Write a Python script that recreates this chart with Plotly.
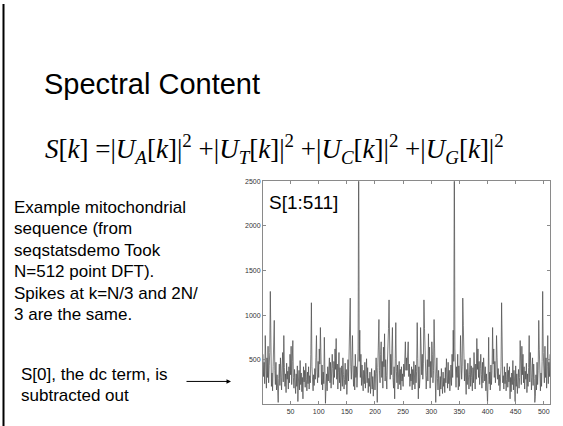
import plotly.graph_objects as go

# S[k] for k = 1..256 (read off the picture); the spectrum of a real sequence
# is symmetric, S[k] = S[512-k], so the second half mirrors the first.
k_half = list(range(1, 257))
s_half = [
    560, 310, 470, 230, 770, 420, 180, 520, 300, 650,
    240, 430, 580, 1265, 480, 200, 350, 150, 420, 610,
    940, 380, 220, 470, 160, 330, 90, 20, 290, 450,
    210, 520, 300, 160, 430, 580, 250, 770, 410, 200,
    340, 130, 460, 280, 370, 170, 420, 240, 560, 330,
    650, 220, 480, 714, 300, 180, 390, 250, 120, 340,
    200, 430, 30, 260, 380, 160, 490, 220, 350, 140,
    300, 60, 420, 250, 380, 190, 460, 280, 150, 360,
    230, 420, 170, 320, 240, 560, 1138, 420, 260, 150,
    330, 210, 400, 280, 520, 770, 360, 240, 480, 300,
    620, 450, 860, 380, 220, 440, 160, 360, 230, 750,
    280, 10, 200, 340, 150, 420, 260, 380, 520, 240,
    470, 180, 330, 560, 400, 220, 480, 300, 620, 390,
    737, 280, 450, 170, 360, 580, 240, 410, 150, 300,
    430, 200, 520, 330, 170, 280, 460, 220, 390, 110,
    350, 500, 260, 640, 880, 1190, 420, 280, 520, 770,
    360, 200, 430, 160, 560, 300, 420, 190, 350, 620,
    2950, 480, 830, 300, 560, 210, 440, 260, 150, 380,
    230, 470, 180, 330, 510, 240, 410, 130, 290, 200,
    360, 120, 250, 400, 170, 310, 90, 240, 380, 160,
    290, 520, 340, 20, 410, 620, 950, 380, 240, 560,
    700, 300, 480, 180, 640, 420, 790, 260, 500, 320,
    170, 440, 600, 850, 1170, 460, 280, 560, 330, 620,
    860, 300, 180, 420, 60, 510, 915, 370, 240, 440,
    170, 350, 480, 220, 390, 160, 420, 260, 340, 200,
    450, 310, 700, 700, 380, 520,
]
k_all = list(range(1, 512))
s_all = s_half + s_half[-2::-1]

x_ticks = [50, 100, 150, 200, 250, 300, 350, 400, 450, 500]
y_ticks = [500, 1000, 1500, 2000, 2500]

W, H = 563, 426
def px(x):
    return x / W
def py(y):
    return 1 - y / H

fig = go.Figure()
fig.add_trace(go.Scatter(x=k_all, y=s_all, mode="lines",
                         line=dict(color="#505050", width=0.75),
                         hoverinfo="skip", showlegend=False))

axis_common = dict(showline=True, linecolor="#8a8a8a", linewidth=1,
                   mirror="ticks", ticks="inside", ticklen=3,
                   tickcolor="#8a8a8a", showgrid=False, zeroline=False,
                   tickfont=dict(family="Liberation Sans", size=7, color="#333"))

fig.update_layout(
    width=W, height=H, autosize=False,
    margin=dict(l=0, r=0, t=0, b=0),
    paper_bgcolor="white", plot_bgcolor="white",
    xaxis=dict(domain=[px(263), px(550)], range=[1, 511],
               tickvals=x_ticks, **axis_common),
    yaxis=dict(domain=[1 - 404 / H, 1 - 179 / H], range=[0, 2500],
               tickvals=y_ticks, **axis_common),
)

sans = "Liberation Sans, Arial, Helvetica, sans-serif"
serif = "Liberation Serif, Times New Roman, serif"

ann = []
ann.append(dict(text="Spectral Content", x=px(42), y=py(81), xanchor="left",
                yanchor="middle", font=dict(family=sans, size=29, color="black")))

def term(c):
    return ("|<i>U</i><sub><i>%s</i></sub>[<i>k</i>]|<sup>2</sup>" % c)

eq = "<i>S</i>[<i>k</i>] =" + " +".join(term(c) for c in ["A", "T", "C", "G"])
ann.append(dict(text=eq, x=px(43), y=py(146), xanchor="left", yanchor="middle",
                font=dict(family=serif, size=27, color="black")))

lines1 = ["Example mitochondrial", "sequence (from", "seqstatsdemo Took",
          "N=512 point DFT).", "Spikes at k=N/3 and 2N/", "3 are the same."]
for i, t in enumerate(lines1):
    ann.append(dict(text=t, x=px(12), y=py(205 + 21.7 * i), xanchor="left",
                    yanchor="middle", font=dict(family=sans, size=17, color="black")))

lines2 = ["S[0], the dc term, is", "subtracted out"]
for i, t in enumerate(lines2):
    ann.append(dict(text=t, x=px(19), y=py(374 + 21.7 * i), xanchor="left",
                    yanchor="middle", font=dict(family=sans, size=17, color="black")))

ann.append(dict(text="S[1:511]", x=px(267), y=py(200), xanchor="left",
                yanchor="middle", font=dict(family=sans, size=19, color="black")))

# arrow pointing at the plot
ann.append(dict(text="", x=px(231), y=py(381), ax=-46, ay=0,
                showarrow=True, arrowhead=2, arrowsize=0.9, arrowwidth=1,
                arrowcolor="black"))

for a in ann:
    a.setdefault("xref", "paper")
    a.setdefault("yref", "paper")
    a.setdefault("showarrow", False)
fig.update_layout(annotations=ann)

fig.add_shape(type="line", xref="paper", yref="paper", x0=px(3.5), x1=px(3.5),
              y0=0, y1=1, line=dict(color="black", width=2))

fig.write_html("out.html")
